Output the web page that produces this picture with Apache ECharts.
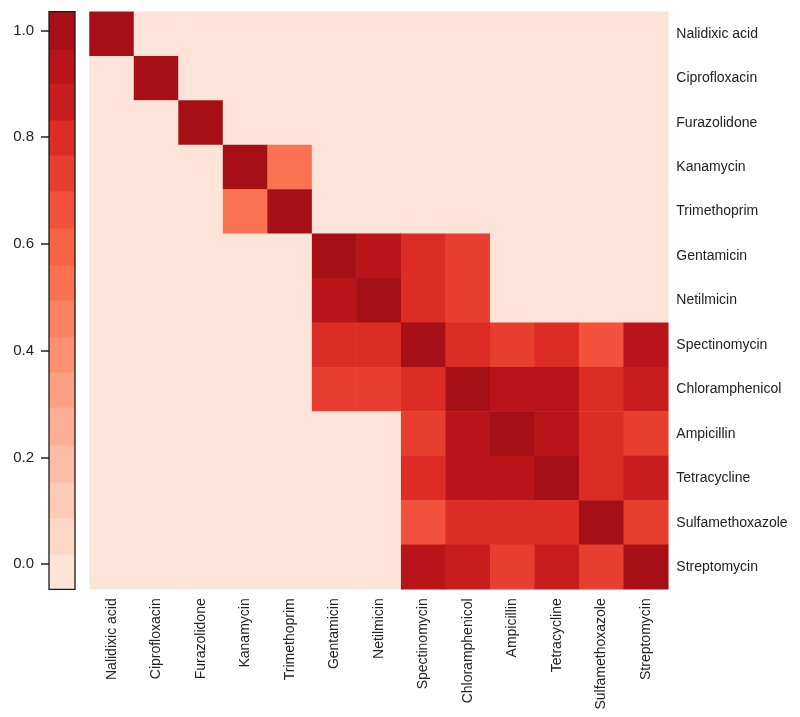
<!DOCTYPE html>
<html>
<head>
<meta charset="utf-8">
<script src="https://cdn.jsdelivr.net/npm/echarts@6/dist/echarts.min.js"></script>
<style>
html,body{margin:0;padding:0;background:#fff;}
#chart{width:800px;height:717px;}
</style>
</head>
<body>
<div id="chart"></div>
<script>
// ---- data ----
var drugs = ['Nalidixic acid','Ciprofloxacin','Furazolidone','Kanamycin','Trimethoprim','Gentamicin','Netilmicin','Spectinomycin','Chloramphenicol','Ampicillin','Tetracycline','Sulfamethoxazole','Streptomycin'];

// correlation matrix, rows top to bottom, columns left to right (same order as drugs)
var matrix = [
  [1,0,0,0,0,0,0,0,0,0,0,0,0],
  [0,1,0,0,0,0,0,0,0,0,0,0,0],
  [0,0,1,0,0,0,0,0,0,0,0,0,0],
  [0,0,0,1,0.5,0,0,0,0,0,0,0,0],
  [0,0,0,0.5,1,0,0,0,0,0,0,0,0],
  [0,0,0,0,0,1,0.93,0.79,0.72,0,0,0,0],
  [0,0,0,0,0,0.93,1,0.79,0.73,0,0,0,0],
  [0,0,0,0,0,0.79,0.79,1,0.82,0.7,0.82,0.65,0.93],
  [0,0,0,0,0,0.72,0.73,0.82,1,0.94,0.95,0.78,0.88],
  [0,0,0,0,0,0,0,0.7,0.94,1,0.93,0.78,0.76],
  [0,0,0,0,0,0,0,0.82,0.95,0.93,1,0.8,0.88],
  [0,0,0,0,0,0,0,0.65,0.78,0.78,0.8,1,0.73],
  [0,0,0,0,0,0,0,0.93,0.88,0.76,0.87,0.73,1]
];

// colour bar bands (value edges, bottom to top) and their colours
var bandEdges = [-0.047,0.019,0.086,0.154,0.223,0.294,0.36,0.425,0.494,0.56,0.629,0.699,0.766,0.833,0.901,0.966,1.035];
var bandColors = ['#fee4d8','#fdd7c8','#fdcab6','#fcbca5','#fcae94','#fca084','#fc9070','#fc8262','#fb7252','#f86343','#f2523b','#e83e2f','#dd2c25','#c91c1e','#b91419','#a50f15'];
var colorbarTicks = [0,0.2,0.4,0.6,0.8,1.0];

// ---- build ----
var heatData = [];
for (var r = 0; r < matrix.length; r++) {
  for (var c = 0; c < matrix[r].length; c++) {
    heatData.push([c, r, matrix[r][c]]);
  }
}
var pieces = [];
var bandData = [];
for (var i = 0; i < bandColors.length; i++) {
  pieces.push({gte: bandEdges[i], lt: bandEdges[i+1], color: bandColors[i]});
  bandData.push([0, bandEdges[i], bandEdges[i+1], i]);
}

var font = 'Liberation Sans, Arial, Helvetica, sans-serif';
var chart = echarts.init(document.getElementById('chart'), null, {renderer: 'canvas'});
chart.setOption({
  animation: false,
  backgroundColor: '#ffffff',
  grid: [
    {left: 89.5, top: 11.7, width: 578.8, height: 577.6},
    {left: 49, top: 11.7, width: 26, height: 577.6, show: true, borderColor: '#1a1a1a', borderWidth: 1.3, backgroundColor: 'transparent', z: 5}
  ],
  xAxis: [
    {type: 'category', gridIndex: 0, data: drugs, position: 'bottom',
     axisLine: {show: false}, axisTick: {show: false}, splitLine: {show: false},
     axisLabel: {rotate: 90, margin: 9, fontSize: 14, color: '#222', fontFamily: font, interval: 0}},
    {type: 'category', gridIndex: 1, data: ['bar'], show: false}
  ],
  yAxis: [
    {type: 'category', gridIndex: 0, data: drugs, inverse: true, position: 'right',
     axisLine: {show: false}, axisTick: {show: false}, splitLine: {show: false},
     axisLabel: {margin: 8, fontSize: 14, color: '#222', fontFamily: font, interval: 0}},
    {type: 'value', gridIndex: 1, min: bandEdges[0], max: bandEdges[bandEdges.length-1], position: 'left',
     axisLine: {show: false}, splitLine: {show: false},
     axisTick: {show: true, customValues: colorbarTicks, length: 8, lineStyle: {color: '#222', width: 1.5}},
     axisLabel: {customValues: colorbarTicks, margin: 15, fontSize: 15, color: '#222', fontFamily: font,
       formatter: function (v) { return Number(v).toFixed(1); }}}
  ],
  visualMap: {type: 'piecewise', show: false, seriesIndex: 0, dimension: 2, pieces: pieces},
  series: [
    {type: 'heatmap', xAxisIndex: 0, yAxisIndex: 0, data: heatData,
     itemStyle: {borderWidth: 0}, emphasis: {disabled: true}, progressive: 0},
    {type: 'custom', xAxisIndex: 1, yAxisIndex: 1, data: bandData, silent: true,
     renderItem: function (params, api) {
       var top = api.coord([api.value(0), api.value(2)]);
       var bottom = api.coord([api.value(0), api.value(1)]);
       var w = api.size([1, 0])[0];
       var y0 = Math.round(top[1]);
       var y1 = Math.round(bottom[1]);
       return {type: 'rect',
         shape: {x: top[0] - w / 2, y: y0, width: w, height: y1 - y0 + 0.5},
         style: {fill: bandColors[api.value(3)]}};
     }}
  ]
});
</script>
</body>
</html>
